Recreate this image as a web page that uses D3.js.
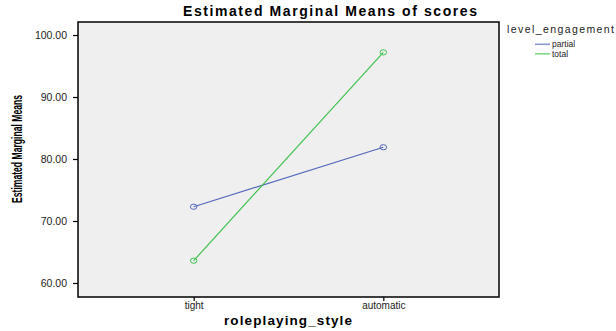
<!DOCTYPE html>
<html>
<head>
<meta charset="utf-8">
<script src="https://cdn.jsdelivr.net/npm/d3@7"></script>
<style>
  body { margin: 0; background: #fff; }
  svg { font-family: "Liberation Sans", Arial, sans-serif; }
</style>
</head>
<body>
<svg id="chart" width="616" height="331"></svg>
<script>
// data
const styles = ["tight", "automatic"];
const groups = ["partial", "total"];
const partialMeans = [72.3, 81.9];
const totalMeans = [63.6, 97.2];
const yTicks = [60, 70, 80, 90, 100];
const colors = ["#5468bd", "#3fc24f"];

const margin = {top: 22, right: 117, bottom: 34, left: 78};
const svg = d3.select("#chart");
const width = 616 - margin.left - margin.right;
const height = 331 - margin.top - margin.bottom;

const g = svg.append("g").attr("transform", `translate(${margin.left},${margin.top})`);

const x = d3.scalePoint().domain(styles).range([0, width]).padding(0.61);
const y = d3.scaleLinear().domain([57.74, 102.1]).range([height, 0]);

g.append("rect")
    .attr("width", width).attr("height", height)
    .attr("fill", "#efefef");

const series = [
    {name: groups[0], values: partialMeans, color: colors[0]},
    {name: groups[1], values: totalMeans, color: colors[1]}
];

const line = d3.line()
    .x((d, i) => x(styles[i]))
    .y(d => y(d));

series.forEach(s => {
    g.append("path")
        .attr("d", line(s.values))
        .attr("fill", "none")
        .attr("stroke", s.color)
        .attr("stroke-width", 1.2);
    g.selectAll(null)
        .data(s.values)
        .enter()
        .append("ellipse")
        .attr("cx", (d, i) => x(styles[i]))
        .attr("cy", d => y(d))
        .attr("rx", 3.3).attr("ry", 2.6)
        .attr("fill", "none")
        .attr("stroke", s.color)
        .attr("stroke-width", 1);
});

// frame
g.append("rect")
    .attr("width", width).attr("height", height)
    .attr("fill", "none")
    .attr("stroke", "#000")
    .attr("stroke-width", 1.5);

// axes
const yAxis = g.append("g")
    .call(d3.axisLeft(y).tickValues(yTicks).tickFormat(d3.format(".2f")).tickSize(5).tickPadding(6));
yAxis.select(".domain").remove();
yAxis.selectAll("line").attr("stroke", "#000").attr("stroke-width", 1.2);
yAxis.selectAll("text").attr("font-size", 10.5).attr("fill", "#222")
    .attr("font-family", "'Liberation Sans', Arial, sans-serif");

const xAxis = g.append("g")
    .attr("transform", `translate(0,${height})`)
    .call(d3.axisBottom(x).tickSize(4).tickPadding(1));
xAxis.select(".domain").remove();
xAxis.selectAll("line").attr("stroke", "#000").attr("stroke-width", 1.2);
xAxis.selectAll("text").attr("font-size", 10).attr("fill", "#222")
    .attr("font-family", "'Liberation Sans', Arial, sans-serif");

// titles
svg.append("text")
    .attr("x", 330).attr("y", 16)
    .attr("text-anchor", "middle")
    .attr("font-size", 14).attr("font-weight", "bold")
    .attr("textLength", 294).attr("lengthAdjust", "spacing")
    .text("Estimated Marginal Means of scores");

svg.append("text")
    .attr("x", 288).attr("y", 325)
    .attr("text-anchor", "middle")
    .attr("font-size", 13.5).attr("font-weight", "bold")
    .attr("textLength", 128).attr("lengthAdjust", "spacing")
    .text("roleplaying_style");

// condensed look: squeeze a larger bold face into the measured length
svg.append("text")
    .attr("transform", "translate(21.5,149) rotate(-90)")
    .attr("text-anchor", "middle")
    .attr("font-size", 15).attr("font-weight", "bold")
    .attr("textLength", 108).attr("lengthAdjust", "spacingAndGlyphs")
    .text("Estimated Marginal Means");

// legend
const legend = svg.append("g").attr("transform", "translate(507,33)");
legend.append("text")
    .attr("font-size", 10.5).attr("fill", "#222")
    .attr("textLength", 107).attr("lengthAdjust", "spacing")
    .text("level_engagement");
series.forEach((s, i) => {
    const row = legend.append("g").attr("transform", `translate(28,${11.3 + i * 9.5})`);
    row.append("line")
        .attr("x1", 0).attr("x2", 15)
        .attr("stroke", s.color).attr("stroke-width", 1.5).attr("opacity", 0.7);
    row.append("text")
        .attr("x", 17).attr("y", 3)
        .attr("font-size", 8.5).attr("fill", "#222")
        .text(s.name);
});
</script>
</body>
</html>
